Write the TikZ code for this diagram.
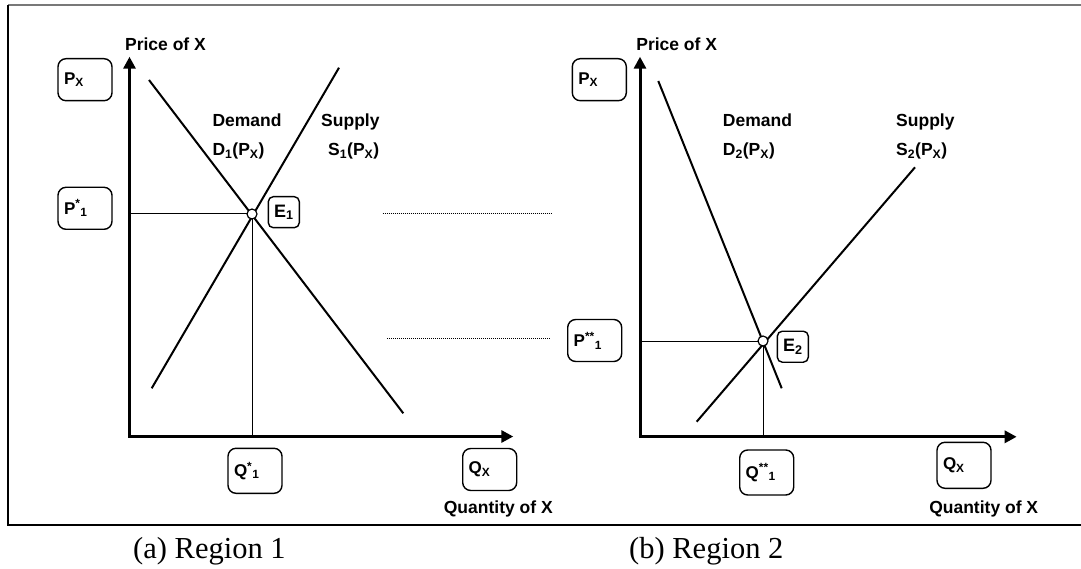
\documentclass[tikz,border=0pt]{standalone}
\usepackage{fontspec}
\setmainfont{Liberation Serif}
\setsansfont{Liberation Sans}
\usetikzlibrary{arrows.meta, positioning, calc}
\definecolor{framegray}{RGB}{120,120,120}

\begin{document}
\begin{tikzpicture}[x=1pt, y=-1pt, line join=miter,
  axis/.style={line width=3pt, {Triangle[length=12pt,width=12pt]}-{Triangle[length=12pt,width=12pt]}},
  curve/.style={line width=2pt},
  guide/.style={line width=1pt},
  link/.style={line width=1.3pt, dash pattern=on 1.1pt off 0.9pt},
  tag/.style={draw, line width=1.4pt, rounded corners=8pt, align=left, inner sep=6pt, text width=42pt, minimum height=42pt, font=\fontsize{17}{19}\selectfont\sffamily\bfseries},
  etag/.style={draw, line width=1.4pt, rounded corners=5pt, inner sep=1pt, minimum size=31pt, font=\fontsize{18}{20}\selectfont\sffamily\bfseries},
  axlabel/.style={inner sep=0pt, font=\fontsize{17.5}{20}\selectfont\sffamily\bfseries},
  eqpt/.style={circle, draw, fill=white, line width=1.2pt, minimum size=10pt, inner sep=0pt},
  caption/.style={inner sep=0pt, font=\fontsize{30.5}{34}\selectfont}]

  \useasboundingbox (0,0) rectangle (1081,569);

  % Frame
  \draw[framegray, line width=2pt] (8,5) -- (1081,5);
  \draw[line width=1.3pt] (8,5) -- (8,525) -- (1081,525);

  % ---------------- Region 1 ----------------
  \coordinate (o1) at (129.5,436.5);
  \coordinate (ytip1) at (129.5,56.7);
  \coordinate (xtip1) at (513.3,436.5);
  \draw[axis] (ytip1) -- (o1) -- (xtip1);

  \node[axlabel, anchor=base] (price1) at (165.5,51) {Price of X};
  \node[axlabel, anchor=base] (qty1) at (498.3,513.3) {Quantity of X};

  % Demand and supply
  \coordinate (d1top) at (149,80);
  \coordinate (d1bot) at (403.3,413.3);
  \coordinate (s1top) at (339,67.7);
  \coordinate (s1bot) at (151.7,388.3);
  \draw[curve] (d1top) -- (d1bot);
  \draw[curve] (s1bot) -- (s1top);

  \node[axlabel, anchor=base west] (dem1) at (212.3,126.7) {Demand};
  \node[axlabel, anchor=base west] (dfun1) at (212.3,156) {D\textsubscript{1}(P\textsubscript{X})};
  \node[axlabel, anchor=base west] (sup1) at (321,126.7) {Supply};
  \node[axlabel, anchor=base west] (sfun1) at (328,156) {S\textsubscript{1}(P\textsubscript{X})};

  % Equilibrium
  \coordinate (e1pos) at (252,214);
  \draw[guide] (o1 |- e1pos) -- (e1pos);
  \draw[guide] (e1pos) -- (e1pos |- o1);
  \node[eqpt] (e1) at (e1pos) {};
  \node[etag] (e1tag) at (283.8,212.2) {E\textsubscript{1}};

  \node[tag] (px1) at (85,79.7) {P\textsubscript{X}};
  \node[tag] (pst1) at (85,208.3) {P\textsuperscript{*}\textsubscript{1}};
  \node[tag, minimum height=45pt] (qst1) at (255,470.8) {Q\textsuperscript{*}\textsubscript{1}};
  \node[tag] (qx1) at (489.7,469.5) {Q\textsubscript{X}};

  % Links between the regions
  \coordinate (la) at (382.7,213.3);
  \coordinate (lb) at (552.5,213.3);
  \coordinate (lc) at (387.3,338.3);
  \coordinate (ld) at (550.7,338.3);
  \draw[link] (la) -- (lb);
  \draw[link] (lc) -- (ld);

  % ---------------- Region 2 ----------------
  \coordinate (o2) at (640,436.8);
  \coordinate (ytip2) at (640,56.7);
  \coordinate (xtip2) at (1016.7,436.8);
  \draw[axis] (ytip2) -- (o2) -- (xtip2);

  \node[axlabel, anchor=base] (price2) at (676.7,51) {Price of X};
  \node[axlabel, anchor=base] (qty2) at (983.7,513.3) {Quantity of X};

  % Demand and supply
  \coordinate (d2top) at (658.3,81);
  \coordinate (d2bot) at (781.7,388.3);
  \coordinate (s2top) at (915,167.3);
  \coordinate (s2bot) at (696.7,421.7);
  \draw[curve] (d2top) -- (d2bot);
  \draw[curve] (s2bot) -- (s2top);

  \node[axlabel, anchor=base west] (dem2) at (722.7,126.7) {Demand};
  \node[axlabel, anchor=base west] (dfun2) at (722.7,156) {D\textsubscript{2}(P\textsubscript{X})};
  \node[axlabel, anchor=base west] (sup2) at (896,126.7) {Supply};
  \node[axlabel, anchor=base west] (sfun2) at (896,156) {S\textsubscript{2}(P\textsubscript{X})};

  % Equilibrium
  \coordinate (e2pos) at (763,341);
  \draw[guide] (o2 |- e2pos) -- (e2pos);
  \draw[guide] (e2pos) -- (e2pos |- o2);
  \node[eqpt] (e2) at (e2pos) {};
  \node[etag] (e2tag) at (792.8,346.7) {E\textsubscript{2}};

  \node[tag] (px2) at (599.3,79.7) {P\textsubscript{X}};
  \node[tag] (pst2) at (594.7,340.5) {P\textsuperscript{**}\textsubscript{1}};
  \node[tag, minimum height=45pt] (qst2) at (766.7,472.5) {Q\textsuperscript{**}\textsubscript{1}};
  \node[tag, minimum height=46pt] (qx2) at (964,465.3) {Q\textsubscript{X}};

  % Captions
  \node[caption, anchor=base west] (cap1) at (133,558) {(a) Region 1};
  \node[caption, anchor=base west] (cap2) at (629,558) {(b) Region 2};
\end{tikzpicture}
\end{document}
